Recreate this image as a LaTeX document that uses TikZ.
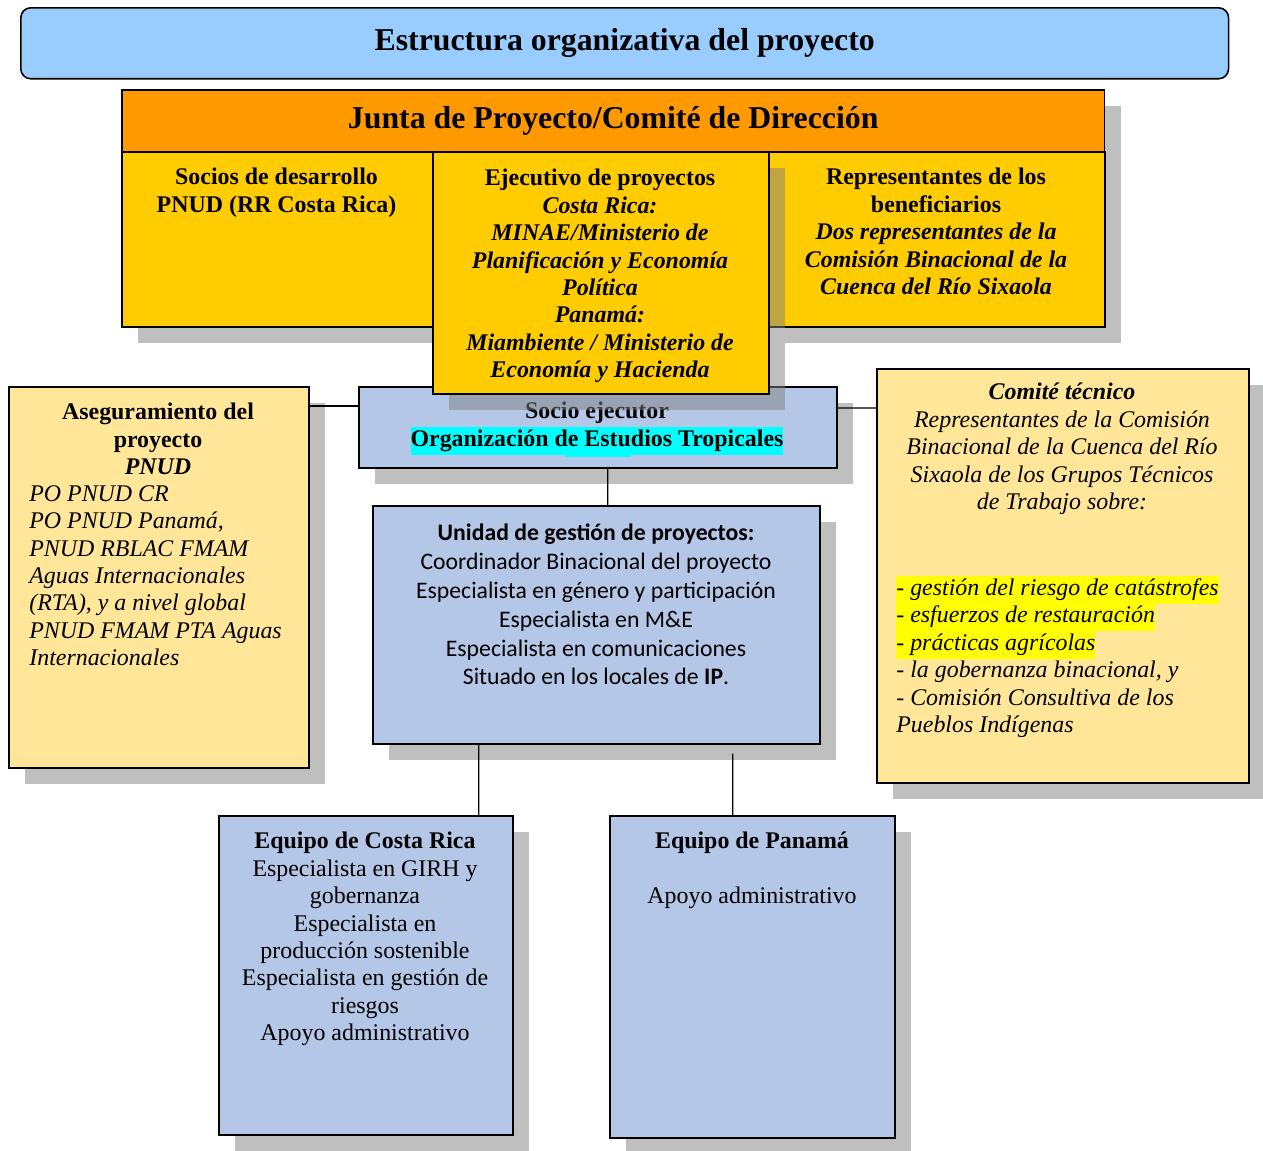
\documentclass[tikz,border=0pt]{standalone}
\usepackage{fontspec}
\setmainfont{Liberation Serif}
\newfontfamily\carlito{Carlito}
\usepackage{xcolor}
\usepackage{tikz}
\usetikzlibrary{shadows}

\definecolor{titleblue}{HTML}{99CCFF}
\definecolor{juntaorange}{HTML}{FF9900}
\definecolor{juntayellow}{HTML}{FFCC00}
\definecolor{paleyellow}{HTML}{FFE699}
\definecolor{paleblue}{HTML}{B4C7E7}
\definecolor{shadowgrey}{HTML}{BFBFBF}
\definecolor{hlcyan}{HTML}{00FFFF}
\definecolor{hlyellow}{HTML}{FFFF00}

\newcommand{\hlmark}[2]{{\setlength{\fboxsep}{0pt}\colorbox{#1}{\strut #2}}}

\tikzset{
	box/.style={draw=black, line width=0.9pt, inner sep=0pt, anchor=north west},
	boxshadow/.style={general shadow={fill=shadowgrey, shadow xshift=0.32cm, shadow yshift=-0.32cm}},
	txt/.style={inner sep=0pt, align=center, anchor=north, font=\fontsize{13.6}{15.6}\selectfont},
	link/.style={draw=black, line width=0.75pt},
}

\begin{document}
\begin{tikzpicture}[x=0.02cm, y=-0.02cm]
	\useasboundingbox (0,0) rectangle (1263,1150);

	% title
	\node[box, rounded corners=0.2cm, fill=titleblue, minimum width=24.16cm, minimum height=1.42cm, font=\fontsize{18.1}{21}\selectfont\bfseries] (titulo) at (20,7) {Estructura organizativa del proyecto};

	% junta
	\node[box, boxshadow, fill=juntaorange, minimum width=19.66cm, minimum height=1.24cm, font=\fontsize{18.1}{21}\selectfont\bfseries] (junta) at (121,89) {Junta de Proyecto/Comité de Dirección};
	\node[box, boxshadow, fill=juntayellow, minimum width=6.22cm, minimum height=3.5cm] (socios) at (121,151) {};
	\node[box, boxshadow, fill=juntayellow, minimum width=6.72cm, minimum height=3.5cm] (benef) at (768,151) {};

	% socio ejecutor
	\node[box, boxshadow, fill=paleblue, minimum width=9.56cm, minimum height=1.62cm] (socio) at (358,386) {};
	\fill[hlcyan] (565,450) rectangle (631,457);
	\node[txt, font=\fontsize{13.6}{15.6}\selectfont\bfseries] (sociotxt) at (597,402) {Socio ejecutor\\ \hlmark{hlcyan}{Organización de Estudios Tropicales}};

	\node[box, fill=juntayellow, drop shadow={shadow xshift=0.32cm, shadow yshift=-0.32cm, fill=gray, opacity=0.5}, minimum width=6.72cm, minimum height=4.84cm] (ejec) at (432,151) {};

	\node[txt, font=\fontsize{13.6}{15.6}\selectfont\bfseries] (sociostxt) at (276.5,168) {Socios de desarrollo\\ PNUD (RR Costa Rica)};
	\node[txt, font=\fontsize{13.6}{15.6}\selectfont\bfseries] (ejectxt) at (600,169) {Ejecutivo de proyectos\\ \textit{Costa Rica:}\\ \textit{MINAE/Ministerio de}\\ \textit{Planificación y Economía}\\ \textit{Política}\\ \textit{Panamá:}\\ \textit{Miambiente / Ministerio de}\\ \textit{Economía y Hacienda}};
	\node[txt, font=\fontsize{13.6}{15.6}\selectfont\bfseries] (beneftxt) at (936,168) {Representantes de los\\ beneficiarios\\ \textit{Dos representantes de la}\\ \textit{Comisión Binacional de la}\\ \textit{Cuenca del Río Sixaola}};

	% aseguramiento
	\node[box, boxshadow, fill=paleyellow, minimum width=6cm, minimum height=7.62cm] (ase) at (8,386) {};
	\node[txt, font=\fontsize{13.6}{15.6}\selectfont\bfseries] (asetit) at (158,403) {Aseguramiento del\\ proyecto\\ \textit{PNUD}};
	\node[txt, align=left, anchor=north west, font=\fontsize{13.6}{15.6}\selectfont\itshape] (aselist) at (29,485) {PO PNUD CR\\ PO PNUD Panamá,\\ PNUD RBLAC FMAM\\ Aguas Internacionales\\ (RTA), y a nivel global\\ PNUD FMAM PTA Aguas\\ Internacionales};

	% comite tecnico
	\node[box, boxshadow, fill=paleyellow, minimum width=7.44cm, minimum height=8.28cm] (comite) at (876,368) {};
	\node[txt, font=\fontsize{13.6}{15.6}\selectfont\itshape] (comitetit) at (1062,383) {\textbf{Comité técnico}\\ Representantes de la Comisión\\ Binacional de la Cuenca del Río\\ Sixaola de los Grupos Técnicos\\ de Trabajo sobre:};
	\node[txt, align=left, anchor=north west, font=\fontsize{13.6}{15.6}\selectfont\itshape] (comitelist) at (896,576) {\hlmark{hlyellow}{- gestión del riesgo de catástrofes}\\ \hlmark{hlyellow}{- esfuerzos de restauración}\\ \hlmark{hlyellow}{- prácticas agrícolas}\\ - la gobernanza binacional, y\\ - Comisión Consultiva de los\\ Pueblos Indígenas};

	% unidad de gestion
	\node[box, boxshadow, fill=paleblue, minimum width=8.94cm, minimum height=4.76cm] (ugp) at (372,505) {};
	\node[txt, font=\fontsize{13.5}{16.5}\selectfont\carlito] (ugptxt) at (596,523) {\textbf{Unidad de gestión de proyectos:}\\ Coordinador Binacional del proyecto\\ Especialista en género y participación\\ Especialista en M\&E\\ Especialista en comunicaciones\\ Situado en los locales de \textbf{IP}.};

	% equipos
	\node[box, boxshadow, fill=paleblue, minimum width=5.88cm, minimum height=6.38cm] (cr) at (218,815) {};
	\node[txt] (crtxt) at (365,832) {\textbf{Equipo de Costa Rica}\\ Especialista en GIRH y\\ gobernanza\\ Especialista en\\ producción sostenible\\ Especialista en gestión de\\ riesgos\\ Apoyo administrativo};
	\node[box, boxshadow, fill=paleblue, minimum width=5.7cm, minimum height=6.44cm] (pan) at (609,815) {};
	\node[txt] (pantxt) at (752,832) {\textbf{Equipo de Panamá}\\[15.6pt] Apoyo administrativo};

	% connectors
	\draw[link] ([yshift=-0.4cm]socio.north west) -- ([yshift=-0.4cm]ase.north east);
	\draw[link] ([yshift=-0.44cm]socio.north east) -- ([yshift=-0.8cm]comite.north west);
	\draw[link] ([xshift=0.2cm]socio.south) -- ([xshift=0.23cm]ugp.north);
	\draw[link] ([xshift=-2.35cm]ugp.south) -- ([xshift=2.26cm]cr.north);
	\draw[link] ([xshift=2.73cm, yshift=-0.18cm]ugp.south) -- ([xshift=-0.39cm]pan.north);
\end{tikzpicture}
\end{document}
